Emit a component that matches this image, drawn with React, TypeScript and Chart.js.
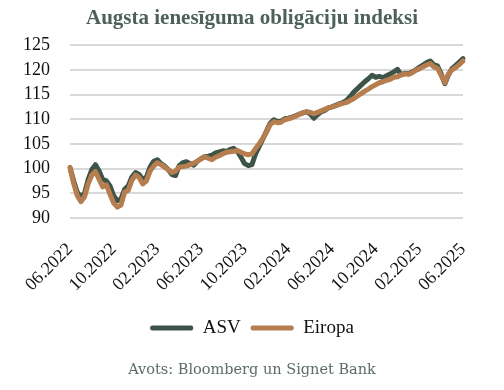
import { useEffect, useRef } from 'react';
import { Chart, registerables } from 'chart.js';

Chart.register(...registerables);

// Tick labels on the x axis (every 4 months)
const tickLabels = ['06.2022', '10.2022', '02.2023', '06.2023', '10.2023', '02.2024', '06.2024', '10.2024', '02.2025', '06.2025'];

// Months covered (3 observations per month, last one = 06.2025)
const months = [
  '06.2022', '07.2022', '08.2022', '09.2022', '10.2022', '11.2022', '12.2022',
  '01.2023', '02.2023', '03.2023', '04.2023', '05.2023', '06.2023', '07.2023', '08.2023', '09.2023', '10.2023', '11.2023', '12.2023',
  '01.2024', '02.2024', '03.2024', '04.2024', '05.2024', '06.2024', '07.2024', '08.2024', '09.2024', '10.2024', '11.2024', '12.2024',
  '01.2025', '02.2025', '03.2025', '04.2025', '05.2025', '06.2025',
];

const asv = [
  100.2, 97.5, 95.2, 94.3, 95.0, 97.8, 99.8, 100.8, 99.5, 97.8,
  97.5, 96.5, 94.5, 93.5, 93.8, 95.8, 96.5, 98.3, 99.2, 98.8,
  97.8, 98.3, 100.3, 101.5, 101.8, 101.0, 100.5, 99.8, 98.8, 98.6,
  100.6, 101.2, 101.4, 101.0, 100.7, 101.5, 102.0, 102.4, 102.5, 102.7,
  103.2, 103.4, 103.6, 103.5, 103.9, 104.1, 103.5, 102.3, 101.0, 100.6,
  100.8, 103.0, 104.5, 106.0, 107.6, 109.2, 109.9, 109.5, 109.6, 110.1,
  110.2, 110.4, 110.7, 111.0, 111.3, 111.5, 111.1, 110.2, 110.9, 111.5,
  111.8, 112.3, 112.5, 112.8, 113.1, 113.4, 113.8, 114.6, 115.5, 116.2,
  116.9, 117.6, 118.2, 118.9, 118.5, 118.7, 118.4, 118.8, 119.2, 119.6,
  120.1, 119.0, 119.3, 119.2, 119.6, 120.0, 120.5, 121.0, 121.5, 121.8,
  121.0, 120.8, 119.2, 117.2, 119.0, 120.3, 120.9, 121.6, 122.3,
];

const eiropa = [
  100.2, 97.0, 94.5, 93.3, 94.3, 96.9, 98.7, 99.4, 97.8, 96.3,
  96.7, 94.8, 93.0, 92.2, 92.6, 95.2, 95.6, 97.6, 98.7, 98.2,
  96.9, 97.5, 99.5, 100.5, 101.2, 100.8, 100.3, 99.8, 99.2, 99.5,
  100.3, 100.4, 100.5, 100.8, 101.1, 101.5, 102.0, 102.4, 102.1, 101.8,
  102.3, 102.6, 103.0, 103.3, 103.4, 103.5, 103.7, 103.3, 103.0, 102.8,
  103.0, 104.1, 105.0, 106.2, 107.4, 108.9, 109.5, 109.3, 109.4, 109.9,
  110.1, 110.3, 110.6, 111.0, 111.3, 111.5, 111.4, 111.1, 111.4, 111.7,
  112.0, 112.3, 112.5, 112.7, 113.0, 113.2, 113.4, 113.8, 114.2, 114.7,
  115.2, 115.7, 116.1, 116.6, 117.0, 117.4, 117.6, 117.9, 118.1, 118.5,
  118.6, 119.0, 119.2, 119.1, 119.4, 119.9, 120.2, 120.6, 121.0, 121.3,
  120.6, 120.3, 118.9, 117.4, 119.2, 120.0, 120.5, 121.1, 121.8,
];

const categories = asv.map((_, i) => months[Math.floor(i / 3)]);

const ASV_COLOR = '#3f5449';
const EUR_COLOR = '#b67d4f';
const SERIF = "'Liberation Serif', 'DejaVu Serif', serif";

export default function App() {
  const ref = useRef<HTMLCanvasElement>(null);

  useEffect(() => {
    if (!ref.current) return;
    const chart = new Chart(ref.current, {
      type: 'line',
      data: {
        labels: categories,
        datasets: [
          {
            label: 'Eiropa',
            data: eiropa,
            borderColor: EUR_COLOR,
            backgroundColor: EUR_COLOR,
            borderWidth: 5,
            pointRadius: 0,
            tension: 0,
            borderCapStyle: 'round',
            borderJoinStyle: 'round',
          },
          {
            label: 'ASV',
            data: asv,
            borderColor: ASV_COLOR,
            backgroundColor: ASV_COLOR,
            borderWidth: 5,
            pointRadius: 0,
            tension: 0,
            borderCapStyle: 'round',
            borderJoinStyle: 'round',
          },
        ],
      },
      options: {
        animation: false,
        responsive: false,
        maintainAspectRatio: false,
        layout: { padding: { left: 10, right: 10, top: 1, bottom: 4 } },
        plugins: {
          title: {
            display: true,
            text: 'Augsta ienesīguma obligāciju indeksi',
            color: '#4d6159',
            font: { family: SERIF, size: 21, weight: 'bold' },
            padding: { top: 5, bottom: 14 },
          },
          subtitle: {
            display: true,
            position: 'bottom',
            text: 'Avots: Bloomberg un Signet Bank',
            color: '#5b6d66',
            font: { family: 'DejaVu Serif', size: 14.5, weight: 'normal' },
            padding: { top: 14, bottom: 7 },
          },
          legend: {
            position: 'bottom',
            labels: {
              boxWidth: 43,
              boxHeight: 5,
              useBorderRadius: true,
              borderRadius: 2,
              color: '#111',
              font: { family: 'Liberation Serif', size: 19, weight: 'normal' },
              padding: 10,
              generateLabels: (c: any) =>
                Chart.defaults.plugins.legend.labels
                  .generateLabels(c)
                  .map((l: any) => ({ ...l, lineWidth: 0 }))
                  .sort((a: any, b: any) => b.datasetIndex - a.datasetIndex),
            },
          },
          tooltip: { enabled: false },
        },
        scales: {
          x: {
            grid: { display: false },
            border: { display: false },
            afterFit: (s: any) => {
              s.paddingLeft = 0;
              s.paddingRight = 41;
            },
            ticks: {
              autoSkip: false,
              minRotation: 45,
              maxRotation: 45,
              color: '#111',
              font: { family: SERIF, size: 18 },
              padding: 13,
              callback: (_v: any, i: number) => (i % 12 === 0 ? tickLabels[i / 12] : ''),
            },
          },
          y: {
            min: 90,
            max: 125,
            border: { display: false },
            grid: { color: '#d9d9d9', lineWidth: 2, drawTicks: false },
            afterFit: (s: any) => {
              s.width = 60;
            },
            ticks: {
              stepSize: 5,
              autoSkip: false,
              color: '#111',
              font: { family: SERIF, size: 18 },
              padding: 20,
            },
          },
        },
      },
    });
    return () => chart.destroy();
  }, []);

  return (
    <div style={{ position: 'fixed', left: 0, top: 0, width: 504, height: 390, background: '#fff' }}>
      <canvas ref={ref} width={504} height={390} style={{ width: 504, height: 390, display: 'block' }} />
    </div>
  );
}
